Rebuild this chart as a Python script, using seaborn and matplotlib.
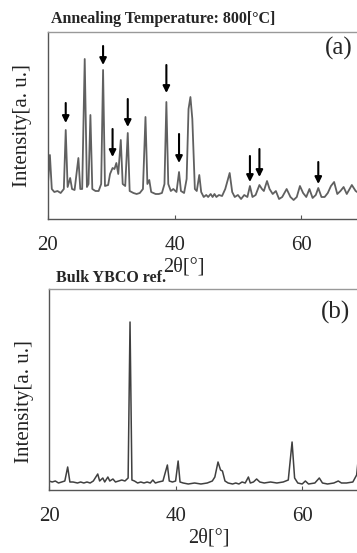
import matplotlib
matplotlib.use('Agg')
import matplotlib.pyplot as plt
import seaborn as sns
import pandas as pd

# (a) annealed at 800 C, intensity in arbitrary units
two_theta_a = [20.0, 20.3, 20.6, 21.0, 21.5, 22.0, 22.5, 22.8, 23.1, 23.5, 23.8, 24.2, 24.8, 25.1,
               25.4, 25.8, 26.15, 26.4, 26.7, 27.0, 27.5, 28.0, 28.4, 28.7, 29.0, 29.5, 29.8, 30.2,
               30.5, 30.8, 31.1, 31.5, 31.8, 32.2, 32.6, 32.9, 33.5, 34.0, 34.5, 35.0, 35.4, 35.7,
               36.0, 36.3, 37.0, 37.5, 38.0, 38.4, 38.7, 39.0, 39.4, 39.8, 40.3, 40.7, 41.0, 41.5,
               41.9, 42.2, 42.5, 42.8, 43.2, 43.5, 43.9, 44.2, 44.6, 45.0, 45.3, 45.7, 46.0, 46.3,
               46.6, 47.0, 47.5, 48.0, 48.7, 49.1, 49.5, 50.0, 50.5, 51.0, 51.5, 51.9, 52.3, 52.8,
               53.4, 53.8, 54.1, 54.6, 55.0, 55.5, 56.0, 56.5, 57.0, 57.7, 58.3, 58.8, 59.3, 59.8,
               60.3, 60.8, 61.3, 61.8, 62.3, 62.7, 63.2, 63.7, 64.2, 64.7, 65.2, 65.7, 66.2, 66.7,
               67.2, 68.0, 68.6, 69.3, 70.0]
intensity_a = [36, 64, 30, 27, 28, 26, 30, 89, 32, 41, 30, 29, 61, 30,
               30, 160, 32, 35, 104, 30, 28, 28, 35, 149, 33, 34, 45, 51,
               50, 56, 45, 79, 35, 33, 86, 28, 26, 25, 26, 30, 102, 35,
               39, 27, 25, 25, 26, 35, 117, 35, 28, 30, 27, 47, 28, 26,
               40, 110, 122, 100, 30, 28, 44, 27, 22, 24, 22, 25, 22, 25,
               22, 24, 23, 30, 46, 27, 22, 24, 20, 24, 22, 33, 22, 24,
               34, 30, 28, 38, 30, 25, 28, 20, 22, 30, 22, 19, 22, 33,
               26, 22, 30, 21, 24, 31, 22, 22, 26, 33, 37, 25, 28, 32,
               25, 34, 28, 25, 27]

# arrows marking peaks in (a): x, tip, tail
arrow_x = [22.8, 28.7, 30.2, 32.6, 38.7, 40.7, 51.9, 53.4, 62.7]
arrow_tip = [96, 154, 62, 92, 126, 56, 37, 42, 35]
arrow_tail = [116, 173, 90, 120, 154, 85, 63, 70, 57]

# (b) bulk YBCO reference
two_theta_b = [20.0, 20.5, 21.0, 21.5, 22.0, 22.5, 22.95, 23.3, 23.8, 24.5, 25.0, 25.5, 26.0, 26.5,
               27.0, 27.7, 28.0, 28.5, 28.8, 29.3, 29.6, 30.1, 30.5, 31.0, 31.5, 32.0, 32.5, 32.8,
               33.1, 33.5, 34.0, 34.5, 35.0, 35.5, 36.0, 36.4, 36.8, 37.3, 38.0, 38.7, 39.0, 39.5,
               40.0, 40.4, 40.7, 41.2, 42.0, 43.0, 44.0, 45.0, 45.8, 46.2, 46.7, 47.1, 47.4, 47.8,
               48.3, 49.0, 49.5, 50.0, 50.5, 51.0, 51.5, 51.8, 52.3, 52.8, 53.3, 54.0, 55.0, 56.0,
               57.0, 57.8, 58.4, 58.8, 59.3, 60.0, 60.5, 61.0, 62.0, 62.7, 63.2, 64.0, 65.0, 65.7,
               66.2, 67.0, 68.0, 68.6, 69.0, 69.5]
intensity_b = [9, 8, 9, 7, 8, 9, 23, 8, 8, 7, 8, 7, 8, 7,
               9, 16, 9, 12, 8, 13, 9, 11, 8, 9, 10, 9, 12, 168,
               10, 9, 7, 8, 7, 8, 7, 10, 7, 8, 9, 25, 9, 8,
               9, 29, 8, 7, 6, 7, 6, 7, 9, 13, 28, 20, 19, 9,
               7, 6, 7, 6, 8, 7, 13, 7, 8, 11, 8, 7, 8, 7,
               8, 10, 48, 12, 7, 6, 9, 6, 7, 12, 7, 6, 7, 9,
               7, 7, 8, 15, 40, 60]

sns.set_theme(style='white')
plt.rcParams['font.family'] = ['Liberation Serif', 'DejaVu Serif']

fig = plt.figure(figsize=(3.57, 5.53), dpi=100)
px_w, px_h = 357, 553

# axes placed in pixels: left, top, width, height
ax_a = fig.add_axes([48 / px_w, 1 - 219 / px_h, 316.5 / px_w, 187 / px_h])
ax_b = fig.add_axes([49 / px_w, 1 - 490 / px_h, 316.5 / px_w, 201 / px_h])

df_a = pd.DataFrame({'2theta': two_theta_a, 'I': intensity_a})
df_b = pd.DataFrame({'2theta': two_theta_b, 'I': intensity_b})

sns.lineplot(data=df_a, x='2theta', y='I', ax=ax_a, color='#606060', linewidth=1.3, sort=False)
sns.lineplot(data=df_b, x='2theta', y='I', ax=ax_b, color='#404040', linewidth=1.1, sort=False)

for x, tip, tail in zip(arrow_x, arrow_tip, arrow_tail):
  ax_a.annotate('', xy=(x, tip), xytext=(x, tail),
                arrowprops=dict(arrowstyle='-|>', color='black', lw=1.5,
                                mutation_scale=10, shrinkA=0, shrinkB=0))

ax_a.set_ylim(0, 187)
ax_b.set_ylim(0, 201)

# label positions per panel (axes fractions): xlabel x, xlabel y, ylabel x, ylabel y
panels = [(ax_a, '(a)', 63.8, 171, 0.43, -0.255, -0.082, 0.50),
          (ax_b, '(b)', 63.0, 178, 0.505, -0.238, -0.078, 0.44)]

for ax, label, tx, ty, xl_x, xl_y, yl_x, yl_y in panels:
  ax.set_xlim(20, 70)
  ax.set_xticks([20, 40, 60])
  ax.set_yticks([])
  ax.tick_params(axis='x', direction='in', length=3, width=0.8, color='#555555',
                 labelsize=15, pad=12, bottom=True)
  ax.set_xlabel('')
  ax.set_ylabel('')
  ax.text(xl_x, xl_y, '2θ[°]', fontsize=14.5, ha='center', va='center',
          transform=ax.transAxes)
  ax.text(yl_x, yl_y, 'Intensity[a. u.]', fontsize=15, ha='center', va='center',
          rotation=90, color='#222222', transform=ax.transAxes)
  ax.text(tx, ty, label, fontsize=18, va='center', ha='left')
  ax.spines['right'].set_visible(False)
  ax.spines['top'].set_color('#999999')
  ax.spines['left'].set_color('#555555')
  ax.spines['bottom'].set_color('#555555')
  for s in ax.spines.values():
    s.set_linewidth(1.0)

fig.text(51 / px_w, 1 - 19 / px_h, 'Annealing Temperature: 800[°C]', fontsize=11.5,
         fontweight='bold', va='center', ha='left')
fig.text(56 / px_w, 1 - 278 / px_h, 'Bulk YBCO ref.', fontsize=11.5,
         fontweight='bold', va='center', ha='left')

fig.savefig('out.png', dpi=100)
